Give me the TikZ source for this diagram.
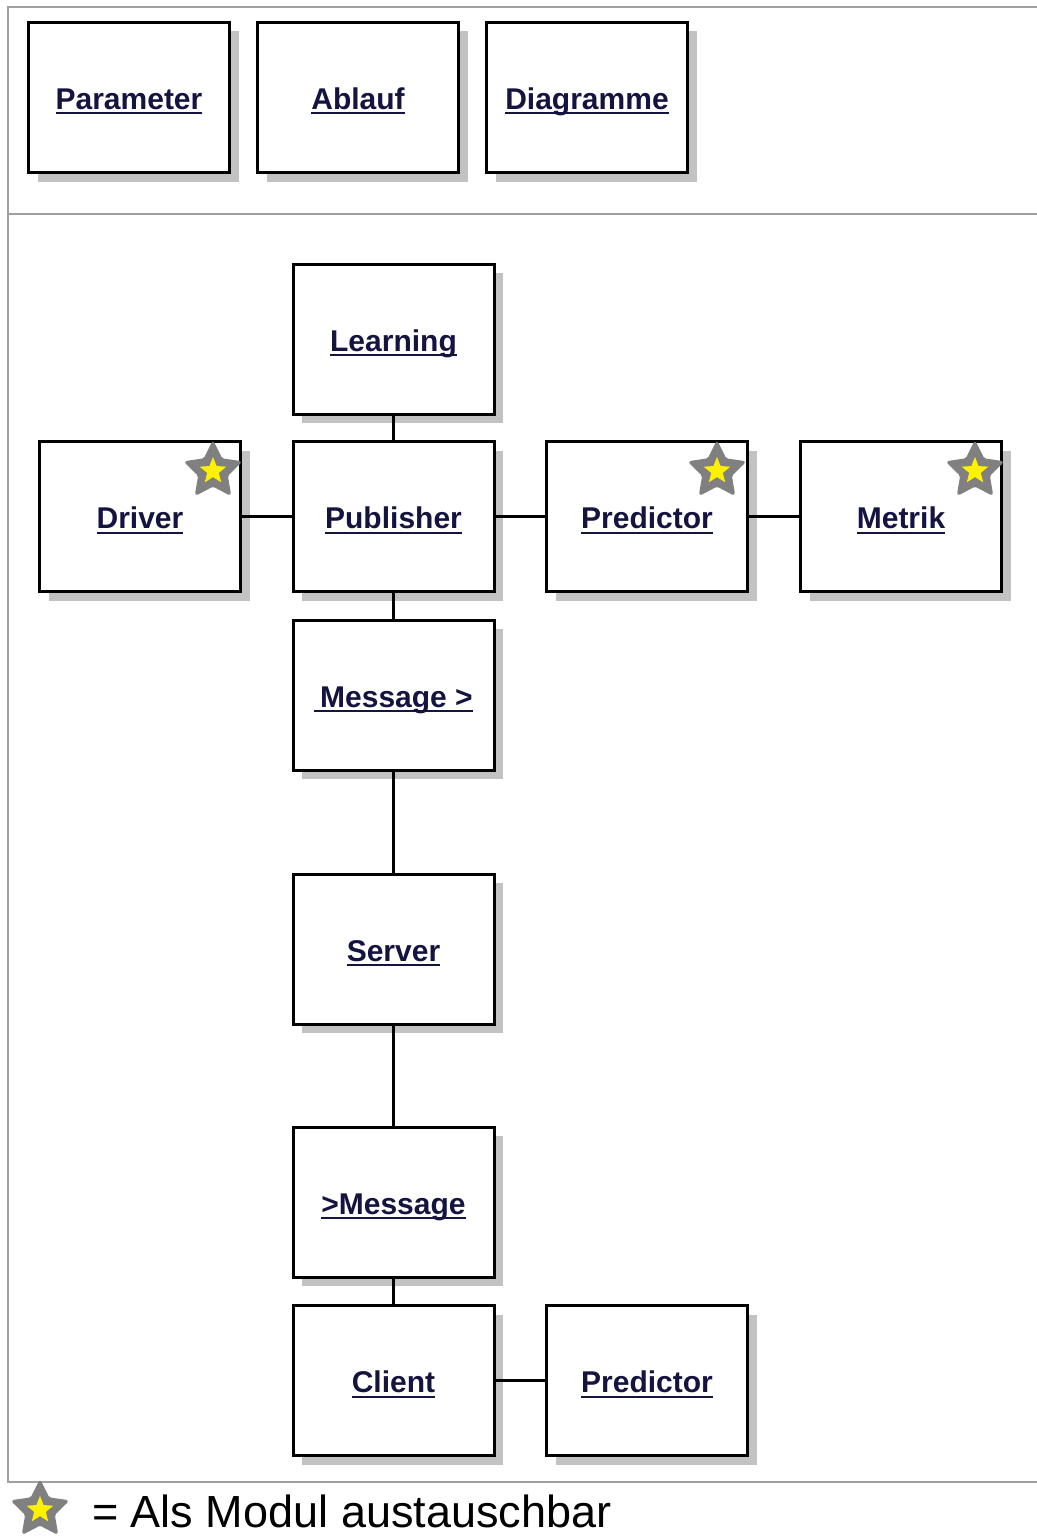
\documentclass[tikz,border=0pt]{standalone}
\usepackage{fontspec}
\setmainfont{Liberation Sans}
\usetikzlibrary{shapes.geometric,shadows}
\definecolor{shadowgrey}{HTML}{C2C2C2}
\definecolor{panelgrey}{HTML}{A0A0A0}
\definecolor{labelink}{HTML}{141440}
\definecolor{stargrey}{HTML}{808080}
\newcommand\ulbox[1]{\setbox0\hbox{#1}\rlap{\rule[-5pt]{\wd0}{2pt}}\box0}
\tikzset{
  modbox/.style={draw=black, line width=3pt, fill=white,
    minimum width=201pt, minimum height=150pt, inner sep=0pt,
    text height=24pt, text depth=0pt,
    text=labelink, font=\fontsize{30}{36}\selectfont\bfseries,
    general shadow={fill=shadowgrey, shadow xshift=9pt, shadow yshift=-9pt}},
  link/.style={draw=black, line width=2.5pt},
  panel/.style={draw=panelgrey, line width=2pt},
  starout/.style={star, star points=5, star point ratio=2.0, minimum size=58pt,
    inner sep=0pt, fill=stargrey, draw=stargrey, line width=2pt, rounded corners=2pt},
  starin/.style={star, star points=5, star point ratio=2.3, minimum size=28pt,
    inner sep=0pt, fill=yellow}
}
\begin{document}
\begin{tikzpicture}[x=1pt,y=-1pt]
\useasboundingbox (0,0) rectangle (1036,1536);
% panels
\coordinate (pTL) at (8,7);
\coordinate (pTR) at (1040,7);
\coordinate (pML) at (8,214);
\coordinate (pMR) at (1040,214);
\coordinate (pBL) at (8,1482);
\coordinate (pBR) at (1040,1482);
\draw[panel] (pTR) -- (pTL) -- (pBL) -- (pBR);
\draw[panel] (pML) -- (pMR);
% top boxes
\node[modbox] (param) at (129,97.5) {\ulbox{Parameter}};
\node[modbox] (ablauf) at (358,97.5) {\ulbox{Ablauf}};
\node[modbox] (diag) at (587,97.5) {\ulbox{Diagramme}};
% main boxes
\node[modbox] (learn) at (393.5,339) {\ulbox{Learning}};
\node[modbox] (driver) at (140,516.5) {\ulbox{Driver}};
\node[modbox] (pub) at (393.5,516.5) {\ulbox{Publisher}};
\node[modbox] (pred) at (647,516.5) {\ulbox{Predictor}};
\node[modbox] (metrik) at (901,516.5) {\ulbox{Metrik}};
\node[modbox] (msgout) at (393.5,695) {\ulbox{\kern6pt Message >}};
\node[modbox] (server) at (393.5,949) {\ulbox{Server}};
\node[modbox] (msgin) at (393.5,1202) {\ulbox{>Message}};
\node[modbox] (client) at (393.5,1380.5) {\ulbox{Client}};
\node[modbox] (pred2) at (647,1380.5) {\ulbox{Predictor}};
% connectors
\draw[link] (learn) -- (pub);
\draw[link] (driver) -- (pub);
\draw[link] (pub) -- (pred);
\draw[link] (pred) -- (metrik);
\draw[link] (pub) -- (msgout);
\draw[link] (msgout) -- (server);
\draw[link] (server) -- (msgin);
\draw[link] (msgin) -- (client);
\draw[link] (client) -- (pred2);
% stars
\node[starout] (s1) at (213,471) {};
\node[starin] (s1i) at (s1) {};
\node[starout] (s2) at (717,471) {};
\node[starin] (s2i) at (s2) {};
\node[starout] (s3) at (975,471) {};
\node[starin] (s3i) at (s3) {};
% legend
\node[starout] (ls) at (40,1510) {};
\node[starin] (lsi) at (ls) {};
\node[anchor=base west, inner sep=0pt, font=\fontsize{45}{50}\selectfont] (legend) at (92,1527) {= Als Modul austauschbar};
\end{tikzpicture}
\end{document}
